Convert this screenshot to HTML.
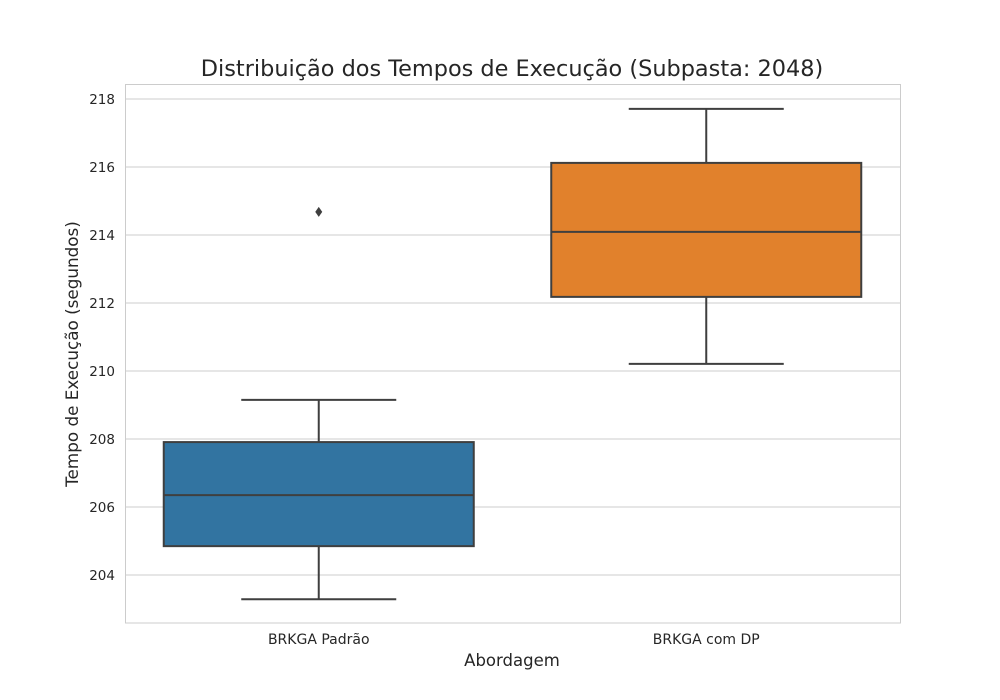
<!DOCTYPE html>
<html><head><meta charset="utf-8"><style>
html,body{margin:0;padding:0;background:#fff;}
svg{display:block;font-family:"DejaVu Sans","Liberation Sans",sans-serif;}
</style></head><body>
<svg id="chart" width="1000" height="700">
<text x="512" y="76" text-anchor="middle" font-size="22.4" fill="#262626">Distribuição dos Tempos de Execução (Subpasta: 2048)</text>
<text x="512" y="666" text-anchor="middle" font-size="16.5" fill="#262626">Abordagem</text>
<text transform="translate(78,354) rotate(-90)" text-anchor="middle" font-size="16.8" fill="#262626">Tempo de Execução (segundos)</text>
<g id="grid"></g><g id="boxes"></g>
<rect x="125.5" y="84.5" width="775" height="538.5" fill="none" stroke="#cccccc" stroke-width="1"/>
</svg>
<script>
const categories = ["BRKGA Padrão", "BRKGA com DP"];
const whiskerLow = [203.29, 210.21];
const q1 = [204.85, 212.18];
const median = [206.35, 214.09];
const q3 = [207.91, 216.12];
const whiskerHigh = [209.15, 217.71];
const outliers = [[214.68], []];
const colors = ["#3274a1", "#e1812c"];
const yTicks = [204, 206, 208, 210, 212, 214, 216, 218];

const L = 125, R = 900, T = 84, B = 623;
const yMin = 202.59, yMax = 218.44;
const y = v => B - (v - yMin) / (yMax - yMin) * (B - T);
const bw = (R - L) / categories.length;
const xc = i => L + bw * (i + 0.5);
const NS = "http://www.w3.org/2000/svg";
function mk(tag, attrs, parent) { const e = document.createElementNS(NS, tag); for (const k in attrs) e.setAttribute(k, attrs[k]); parent.appendChild(e); return e; }
const grid = document.getElementById('grid');
yTicks.forEach(t => {
  const g = mk('line', {x1: L, x2: R, y1: y(t), y2: y(t), stroke: '#cccccc', 'stroke-width': 1}, grid);
  
  
  const tx = mk('text', {x: 115, y: y(t) + 4.8, 'text-anchor': 'end', 'font-size': 13.5, fill: '#262626'}, grid);
  tx.textContent = t;
  
  
});
const bx = document.getElementById('boxes');
const lc = '#3f3f3f';
categories.forEach((c, i) => {
  const cx = xc(i), hw = bw * 0.4, cw = bw * 0.2;
  const g = mk('g', {}, bx);
  
  
  mk('line', {x1: cx, x2: cx, y1: y(whiskerLow[i]), y2: y(q1[i]), stroke: lc, 'stroke-width': 2}, g);
  mk('line', {x1: cx, x2: cx, y1: y(q3[i]), y2: y(whiskerHigh[i]), stroke: lc, 'stroke-width': 2}, g);
  mk('line', {x1: cx - cw, x2: cx + cw, y1: y(whiskerLow[i]), y2: y(whiskerLow[i]), stroke: lc, 'stroke-width': 2}, g);
  mk('line', {x1: cx - cw, x2: cx + cw, y1: y(whiskerHigh[i]), y2: y(whiskerHigh[i]), stroke: lc, 'stroke-width': 2}, g);
  mk('rect', {x: cx - hw, y: y(q3[i]), width: hw * 2, height: y(q1[i]) - y(q3[i]), fill: colors[i], stroke: lc, 'stroke-width': 2}, g);
  mk('line', {x1: cx - hw, x2: cx + hw, y1: y(median[i]), y2: y(median[i]), stroke: lc, 'stroke-width': 2}, g);
  outliers[i].forEach(o => {
    const p = mk('path', {d: `M${cx},${y(o)-5} L${cx+3.5},${y(o)} L${cx},${y(o)+5} L${cx-3.5},${y(o)} Z`, fill: lc}, g);
    
    
  });
  const t = mk('text', {x: cx, y: 644, 'text-anchor': 'middle', 'font-size': 14, fill: '#262626'}, bx);
  t.textContent = c;
  
  
});
</script>
</body></html>
